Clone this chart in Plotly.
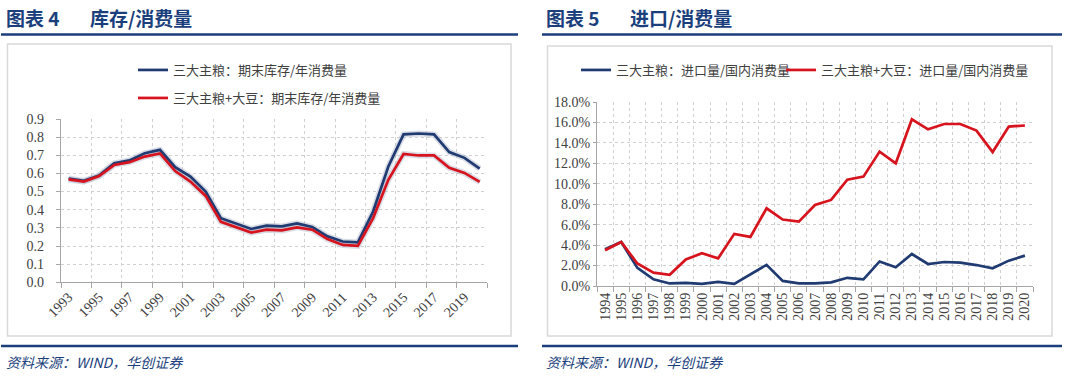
import plotly.graph_objects as go

# ---------------- data ----------------
years_left = list(range(1993, 2021))
stock_grain = [0.572, 0.559, 0.588, 0.656, 0.672, 0.711, 0.730, 0.634, 0.583, 0.500,
               0.353, 0.325, 0.294, 0.312, 0.308, 0.325, 0.305, 0.253, 0.225, 0.220,
               0.390, 0.638, 0.815, 0.820, 0.815, 0.718, 0.686, 0.627]
stock_grain_soy = [0.567, 0.555, 0.586, 0.647, 0.662, 0.693, 0.710, 0.613, 0.555, 0.476,
                   0.333, 0.302, 0.274, 0.290, 0.286, 0.303, 0.290, 0.238, 0.206, 0.201,
                   0.354, 0.565, 0.707, 0.699, 0.699, 0.631, 0.603, 0.553]

years_right = list(range(1994, 2021))
import_grain = [3.6, 4.3, 1.77, 0.65, 0.25, 0.3, 0.2, 0.4, 0.2, 1.1, 2.07,
                0.5, 0.26, 0.26, 0.36, 0.8, 0.65, 2.4, 1.83, 3.13, 2.15, 2.35,
                2.28, 2.05, 1.73, 2.48, 2.97]
import_grain_soy = [3.5, 4.3, 2.2, 1.3, 1.1, 2.6, 3.2, 2.7, 5.1, 4.8, 7.6,
                    6.5, 6.3, 7.93, 8.42, 10.4, 10.7, 13.15, 12.0, 16.3, 15.33, 15.85,
                    15.85, 15.2, 13.1, 15.6, 15.7]

left_labels = ["三大主粮：期末库存/年消费量", "三大主粮+大豆：期末库存/年消费量"]
right_labels = ["三大主粮：进口量/国内消费量", "三大主粮+大豆：进口量/国内消费量"]
titles = [("图表 4", "库存/消费量"), ("图表 5", "进口/消费量")]
source_text = "资料来源：WIND，华创证券"

# ---------------- style ----------------
W, H = 1080, 378
NAVY = "#203A72"
RED = "#D7141E"
HEAD = "#1B3F7C"
GRID = "#D0D0D0"
AXIS = "#A6A6A6"
TICKFONT = dict(family="Liberation Serif", size=14, color="#404040")
LEGFONT = dict(family="Noto Sans CJK SC", size=13, color="#404040")


def px(x):
    return x / W


def py(y):
    return 1 - y / H


fig = go.Figure()

# left halo traces
for vals in (stock_grain, stock_grain_soy):
    fig.add_trace(go.Scatter(x=years_left, y=vals, mode="lines", showlegend=False,
                             hoverinfo="skip",
                             line=dict(color="rgba(170,180,200,0.45)", width=6),
                             xaxis="x", yaxis="y"))

fig.add_trace(go.Scatter(x=years_left, y=stock_grain, mode="lines", name=left_labels[0],
                         line=dict(color=NAVY, width=2.7), xaxis="x", yaxis="y",
                         legend="legend"))
fig.add_trace(go.Scatter(x=years_left, y=stock_grain_soy, mode="lines", name=left_labels[1],
                         line=dict(color=RED, width=2.7), xaxis="x", yaxis="y",
                         legend="legend2"))

fig.add_trace(go.Scatter(x=years_right, y=import_grain, mode="lines", name=right_labels[0],
                         line=dict(color=NAVY, width=2.7), xaxis="x2", yaxis="y2",
                         legend="legend3"))
fig.add_trace(go.Scatter(x=years_right, y=import_grain_soy, mode="lines", name=right_labels[1],
                         line=dict(color=RED, width=2.7), xaxis="x2", yaxis="y2",
                         legend="legend4"))

left_major = [y for y in years_left if (y - 1993) % 2 == 0]
left_minor = [years_left[0] - 0.5 + 2 * k for k in range(len(years_left) // 2 + 1)]
right_minor = [years_right[0] - 0.5 + k for k in range(len(years_right) + 1)]

fig.update_layout(
    width=W, height=H, margin=dict(l=0, r=0, t=0, b=0, pad=0, autoexpand=False),
    paper_bgcolor="white", plot_bgcolor="white",
    xaxis=dict(domain=[px(61), px(487.3)], anchor="y", automargin=False,
               range=[years_left[0] - 0.5, years_left[-1] + 0.5],
               tickmode="array", tickvals=left_major, ticktext=[str(v) for v in left_major],
               tickangle=-45, ticks="", showgrid=False, zeroline=False,
               showline=True, linecolor=AXIS, linewidth=1.3, tickfont=TICKFONT,
               minor=dict(tickmode="array", tickvals=left_minor, ticks="outside",
                          ticklen=5, tickcolor=AXIS, showgrid=True, gridcolor=GRID,
                          griddash="dot", gridwidth=1)),
    yaxis=dict(domain=[py(282.3), py(119)], anchor="x", range=[0, 0.9], dtick=0.1,
               automargin=False, ticklabelstandoff=9,
               tickformat=".1f", showgrid=True, gridcolor=GRID, griddash="dot",
               zeroline=False, showline=True, linecolor=AXIS, linewidth=1.3,
               ticks="outside", ticklen=4, tickcolor=AXIS, tickfont=TICKFONT),
    xaxis2=dict(domain=[px(597), px(1033)], anchor="y2", automargin=False,
                range=[years_right[0] - 0.5, years_right[-1] + 0.5],
                tickmode="array", tickvals=years_right, ticktext=[str(v) for v in years_right],
                tickangle=-90, ticks="", showgrid=False, zeroline=False,
                showline=True, linecolor=AXIS, linewidth=1.3, tickfont=TICKFONT,
                minor=dict(tickmode="array", tickvals=right_minor, ticks="outside",
                           ticklen=5, tickcolor=AXIS, showgrid=True, gridcolor=GRID,
                           griddash="dot", gridwidth=1)),
    yaxis2=dict(domain=[py(286), py(102)], anchor="x2", range=[0, 18], dtick=2,
                automargin=False,
                tickformat=".1f", ticksuffix="%", showgrid=True, gridcolor=GRID,
                griddash="dot", zeroline=False, showline=True, linecolor=AXIS,
                linewidth=1.3, ticks="outside", ticklen=3, tickcolor=AXIS,
                tickfont=TICKFONT),
    legend=dict(x=px(133), y=py(55), xanchor="left", yanchor="top", font=LEGFONT,
                bgcolor="rgba(0,0,0,0)"),
    legend2=dict(x=px(133), y=py(83), xanchor="left", yanchor="top", font=LEGFONT,
                 bgcolor="rgba(0,0,0,0)"),
    legend3=dict(x=px(576), y=py(55), xanchor="left", yanchor="top", font=LEGFONT,
                 bgcolor="rgba(0,0,0,0)"),
    legend4=dict(x=px(781), y=py(55), xanchor="left", yanchor="top", font=LEGFONT,
                 bgcolor="rgba(0,0,0,0)"),
    showlegend=True,
)

shapes = []
# header & footer rules
for x0, x1 in ((1, 518), (542, 1062)):
    shapes.append(dict(type="line", xref="paper", yref="paper", x0=px(x0), x1=px(x1),
                       y0=py(34.5), y1=py(34.5), line=dict(color=HEAD, width=2.5)))
    shapes.append(dict(type="line", xref="paper", yref="paper", x0=px(x0), x1=px(x1),
                       y0=py(346), y1=py(346), line=dict(color=HEAD, width=2.5)))
# chart boxes
for x0, x1, y0, y1 in ((7.5, 511, 44, 336), (547.5, 1052, 46, 336)):
    shapes.append(dict(type="rect", xref="paper", yref="paper", x0=px(x0), x1=px(x1),
                       y0=py(y1), y1=py(y0), line=dict(color="#D9D9D9", width=1.5)))
fig.update_layout(shapes=shapes)

ann = []
for (num, name), xa, xb in ((titles[0], 4, 88), (titles[1], 544, 628)):
    ann.append(dict(text=f"<b>{num}</b>", x=px(xa), y=py(17), xref="paper", yref="paper",
                    xanchor="left", yanchor="middle", showarrow=False,
                    font=dict(family="Noto Sans CJK SC", size=19, color=HEAD)))
    ann.append(dict(text=f"<b>{name}</b>", x=px(xb), y=py(17), xref="paper", yref="paper",
                    xanchor="left", yanchor="middle", showarrow=False,
                    font=dict(family="Noto Sans CJK SC", size=19, color=HEAD)))
for xs in (4, 544):
    ann.append(dict(text=f"<i>{source_text}</i>", x=px(xs), y=py(362), xref="paper",
                    yref="paper", xanchor="left", yanchor="middle", showarrow=False,
                    font=dict(family="Noto Sans CJK SC", size=14, color=HEAD)))
fig.update_layout(annotations=ann)

fig.write_html("out.html", config={"displayModeBar": False},
               post_script="document.body.style.margin='0';")
